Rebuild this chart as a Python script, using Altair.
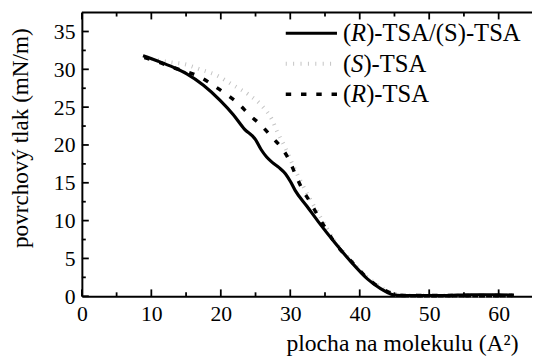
import altair as alt
import pandas as pd

# ---- data ----
series_names = ["(R)-TSA/(S)-TSA", "(S)-TSA", "(R)-TSA"]

rs_x = [8.8, 10.9, 13.2, 15.1, 17.5, 19.9, 21.8, 23.4, 25.0, 25.8, 26.6, 27.4, 28.4, 29.3, 30.0,
        30.7, 32.4, 34.0, 36.4, 38.8, 41.1, 43.0, 44.0, 44.8, 46.0, 48.0, 50.0, 52.0, 54.0, 56.0,
        58.0, 60.0, 62.2]
rs_y = [31.8, 31.1, 30.25, 29.4, 27.9, 25.9, 24.0, 22.1, 20.7, 19.4, 18.4, 17.7, 17.0, 16.2, 15.2,
        14.0, 11.9, 9.9, 7.1, 4.5, 2.3, 1.0, 0.5, 0.2, 0.1, 0.1, 0.1, 0.1, 0.15, 0.2,
        0.2, 0.2, 0.15]

s_x = [9.0, 11.0, 13.0, 14.7, 17.0, 19.4, 21.8, 24.1, 26.0, 27.4, 28.1, 29.3, 30.3, 31.5, 33.0,
       34.5, 36.4, 38.8, 41.1, 43.0, 44.5, 45.5, 48.0, 52.0, 56.0, 60.0, 62.0]
s_y = [31.6, 31.2, 30.9, 30.7, 30.0, 29.2, 27.9, 26.6, 25.1, 23.3, 21.8, 19.6, 17.5, 15.2, 12.6,
       10.2, 7.3, 4.7, 2.5, 1.2, 0.5, 0.2, 0.1, 0.1, 0.1, 0.1, 0.1]

r_x = [9.0, 10.9, 13.2, 14.7, 17.0, 18.9, 20.8, 22.6, 24.1, 25.8, 27.4, 28.85, 29.9, 30.7, 31.7,
       32.9, 34.0, 35.2, 36.4, 38.8, 41.1, 43.0, 44.3, 45.2, 47.0, 50.0, 53.0, 56.0, 59.0, 62.0]
r_y = [31.55, 31.0, 30.2, 29.8, 29.0, 27.9, 26.7, 25.4, 24.0, 22.6, 21.0, 19.5, 17.9, 16.2, 14.2,
       12.4, 10.6, 8.8, 7.1, 4.6, 2.4, 1.1, 0.5, 0.2, 0.1, 0.1, 0.1, 0.1, 0.1, 0.1]

x_major = [0, 10, 20, 30, 40, 50, 60]
x_minor = [5, 15, 25, 35, 45, 55]
y_major = [0, 5, 10, 15, 20, 25, 30, 35]
y_minor = [2.5, 7.5, 12.5, 17.5, 22.5, 27.5, 32.5]

X_MAX = 64.8
Y_MAX = 37.5

curves = pd.concat([
    pd.DataFrame({"x": rs_x, "y": rs_y, "series": series_names[0]}),
    pd.DataFrame({"x": s_x, "y": s_y, "series": series_names[1]}),
    pd.DataFrame({"x": r_x, "y": r_y, "series": series_names[2]}),
], ignore_index=True)

# inward tick marks (centred half a tick-length inside the frame)
vt = []
for v in x_major:
    vt.append({"x": float(v), "y": 0.45, "kind": "major"})
    vt.append({"x": float(v), "y": Y_MAX - 0.45, "kind": "major"})
for v in x_minor:
    vt.append({"x": float(v), "y": 0.26, "kind": "minor"})
    vt.append({"x": float(v), "y": Y_MAX - 0.26, "kind": "minor"})
vticks = pd.DataFrame(vt)

ht = []
for v in y_major:
    ht.append({"x": 0.5, "y": float(v), "kind": "major"})
for v in y_minor:
    ht.append({"x": 0.28, "y": float(v), "kind": "minor"})
hticks = pd.DataFrame(ht)

one = pd.DataFrame({"k": [0]})

FONT = "Liberation Serif"

xs = alt.Scale(domain=[0, X_MAX], nice=False, zero=False)
ys = alt.Scale(domain=[0, Y_MAX], nice=False)

xaxis = alt.Axis(values=x_major, ticks=False, tickSize=0, grid=False, domain=True,
                 domainColor="black", domainWidth=2, labelFont=FONT, labelFontSize=22,
                 labelColor="black", labelPadding=8, labelFlush=False,
                 title="plocha na molekulu (A²)", titleFont=FONT, titleFontSize=24,
                 titleFontWeight="normal", titleColor="black", titleX=325, titleY=55,
                 titleBaseline="alphabetic", titleAlign="center")
yaxis = alt.Axis(values=y_major, ticks=False, tickSize=0, grid=False, domain=True,
                 domainColor="black", domainWidth=2, labelFont=FONT, labelFontSize=22,
                 labelColor="black", labelPadding=7, labelFlush=False,
                 title="povrchový tlak (mN/m)", titleFont=FONT, titleFontSize=23.5,
                 titleFontWeight="normal", titleColor="black", titleX=-55, titleY=127,
                 titleBaseline="alphabetic", titleAlign="center", titleAngle=-90)

X = alt.X("x:Q", scale=xs, axis=xaxis)
Y = alt.Y("y:Q", scale=ys, axis=yaxis)

base = alt.Chart(curves)

s_line = base.transform_filter(alt.datum.series == series_names[1]).mark_line(
    color="#c4c4c4", strokeWidth=4, strokeDash=[1, 6], strokeCap="butt", interpolate="monotone"
).encode(x=X, y=Y)
r_line = base.transform_filter(alt.datum.series == series_names[2]).mark_line(
    color="black", strokeWidth=3.5, strokeDash=[5.5, 10.5], strokeCap="butt", interpolate="monotone"
).encode(x=X, y=Y)
rs_line = base.transform_filter(alt.datum.series == series_names[0]).mark_line(
    color="black", strokeWidth=3.2, interpolate="monotone"
).encode(x=X, y=Y)

tick_len = alt.Size("kind:N", scale=alt.Scale(domain=["major", "minor"], range=[7, 4]), legend=None)
vtick_layer = alt.Chart(vticks).mark_tick(orient="vertical", color="black", thickness=1.8,
                                          opacity=1).encode(x=X, y=Y, size=tick_len)
htick_layer = alt.Chart(hticks).mark_tick(orient="horizontal", color="black", thickness=1.8,
                                          opacity=1).encode(x=X, y=Y, size=tick_len)

top_border = alt.Chart(one).mark_rule(color="black", strokeWidth=2).encode(
    y=alt.datum(Y_MAX))

# ---- legend (custom, to allow partially italic labels) ----
LEG_F = 25
leg_rows_y = [21, 52, 83]
leg_line_x = [207, 259]
leg_text_x = 265
w_paren = 0.333 * LEG_F
w_R = 0.611 * LEG_F
w_S = 0.5 * LEG_F

legend_pieces = [
    (0, "(", False, 0), (0, "R", True, w_paren), (0, ")-TSA/(S)-TSA", False, w_paren + w_R),
    (1, "(", False, 0), (1, "S", True, w_paren), (1, ")-TSA", False, w_paren + w_S),
    (2, "(", False, 0), (2, "R", True, w_paren), (2, ")-TSA", False, w_paren + w_R),
]

leg_layers = []
line_styles = [
    dict(color="black", strokeWidth=3.2),
    dict(color="#c4c4c4", strokeWidth=4, strokeDash=[1, 6.5], strokeCap="butt"),
    dict(color="black", strokeWidth=3.5, strokeDash=[5.5, 10], strokeCap="butt"),
]
for i, sty in enumerate(line_styles):
    leg_layers.append(
        alt.Chart(one).mark_rule(**sty).encode(
            x=alt.value(leg_line_x[0]), x2=alt.value(leg_line_x[1]), y=alt.value(leg_rows_y[i]))
    )
for row, txt, ital, dx in legend_pieces:
    leg_layers.append(
        alt.Chart(one).mark_text(
            text=txt, font=FONT, fontSize=LEG_F, fontStyle="italic" if ital else "normal",
            fontWeight="normal", align="left", baseline="middle", color="black"
        ).encode(x=alt.value(leg_text_x + dx), y=alt.value(leg_rows_y[row]))
    )

chart = alt.layer(s_line, r_line, rs_line, vtick_layer, htick_layer, top_border,
                  *leg_layers).properties(
    width=457, height=288,
    autosize=alt.AutoSizeParams(type="none"),
    padding={"left": 75, "top": 2, "right": 0, "bottom": 58},
    background="white",
).configure_view(stroke=None)

chart.save("out.html", embed_options={"renderer": "svg", "actions": False})
